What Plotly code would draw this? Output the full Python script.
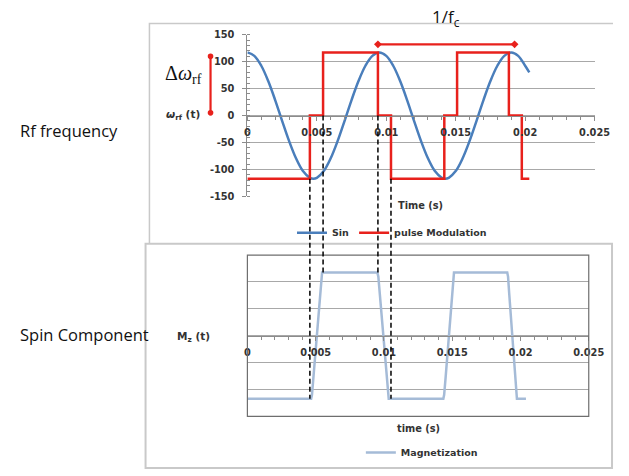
import plotly.graph_objects as go

# ---------------- data ----------------
# carrier (Sin) sampled over time
t_sin = [0.0, 0.0005, 0.001, 0.0015, 0.002, 0.0025, 0.003, 0.0035, 0.004, 0.0045, 0.00475,
         0.005, 0.0055, 0.006, 0.0065, 0.007, 0.0075, 0.008, 0.0085, 0.009, 0.0095,
         0.01, 0.0105, 0.011, 0.0115, 0.012, 0.0125, 0.013, 0.0135, 0.014, 0.01425,
         0.0145, 0.015, 0.0155, 0.016, 0.0165, 0.017, 0.0175, 0.018, 0.0185, 0.019,
         0.0195, 0.02, 0.0203]
sin_values = [117, 110.7, 92.3, 64.0, 28.7, -9.7, -47.0, -79.2, -102.9, -115.4, -117,
              -115.4, -102.9, -79.2, -47.0, -9.7, 28.7, 64.0, 92.3, 110.7, 117,
              110.7, 92.3, 64.0, 28.7, -9.7, -47.0, -79.2, -102.9, -115.4, -117,
              -115.4, -102.9, -79.2, -47.0, -9.7, 28.7, 64.0, 92.3, 110.7, 117,
              110.7, 92.3, 80.0]

# pulse modulation: switching times and the level held after each one
t_pulse = [0.0, 0.0045, 0.00545, 0.0094, 0.01034, 0.01418, 0.0151, 0.01883, 0.01976, 0.0203]
pulse_values = [-117, 0, 117, 0, -117, 0, 117, 0, -117, -117]

# magnetization response
t_mag = [0.0,
         0.00467, 0.00473, 0.00483, 0.00507, 0.00531, 0.00541, 0.00547,
         0.00952, 0.00959, 0.00969, 0.00994, 0.01019, 0.01029, 0.01035,
         0.01435, 0.01441, 0.01451, 0.01474, 0.01497, 0.01507, 0.01513,
         0.01903, 0.01909, 0.01917, 0.01939, 0.01960, 0.01968, 0.01974,
         0.0204]
mag_values = [-2.35,
              -2.35, -2.2, -1.6, 0, 1.6, 2.2, 2.35,
              2.35, 2.2, 1.6, 0, -1.6, -2.2, -2.35,
              -2.35, -2.2, -1.6, 0, 1.6, 2.2, 2.35,
              2.35, 2.2, 1.6, 0, -1.6, -2.2, -2.35,
              -2.35]

# carrier period bracket (1/fc) and amplitude bracket (Δω_rf)
period_t = [0.0094, 0.01924]
period_level = [132, 132]
amp_levels = [5, 110]

# switching instants traced down to the magnetization
edge_t = [0.0045, 0.00545, 0.0094, 0.01034]
edge_top_level = [-117, 0, 0, -117]
edge_mag_level = [-2.35, 2.35, 2.35, -2.35]

x_ticks = [0, 0.005, 0.01, 0.015, 0.02, 0.025]
x_tick_text = ["0", "0.005", "0.01", "0.015", "0.02", "0.025"]
y_ticks = [-150, -100, -50, 0, 50, 100, 150]
y_tick_text = ["-150", "-100", "-50", "0", "50", "100", "150"]

# ---------------- layout geometry ----------------
W, H = 629, 476


def px_x(p):
    return p / W


def px_y(p):
    return 1 - p / H


D1x = [px_x(252), px_x(610)]
D1y = [px_y(195), px_y(29.3)]
D2x = [px_x(252), px_x(604)]
D2y = [px_y(420), px_y(255)]
R1y = [-150, 150]
R2y = [-3, 3]
Rx = [0, 0.025]


def to_paper(v, dom, rng):
    return dom[0] + (v - rng[0]) / (rng[1] - rng[0]) * (dom[1] - dom[0])


BLUE = "#4a7ebb"
RED = "#e8211c"
MAGC = "#a5bbd7"
TXT = "#333333"
GRID = "#a8a8a8"
AXIS = "#8c8c8c"
TICKFONT = dict(family="DejaVu Sans", size=9.8, color=TXT, weight="bold")

fig = go.Figure()

fig.add_trace(go.Scatter(x=t_sin, y=sin_values, name="Sin", mode="lines",
                         line=dict(color=BLUE, width=2.5, shape="spline", smoothing=1.0),
                         xaxis="x", yaxis="y", legend="legend"))
fig.add_trace(go.Scatter(x=t_pulse, y=pulse_values, name="pulse Modulation", mode="lines",
                         line=dict(color=RED, width=2.5, shape="hv"),
                         xaxis="x", yaxis="y", legend="legend"))
fig.add_trace(go.Scatter(x=period_t, y=period_level, mode="lines+markers", showlegend=False,
                         line=dict(color=RED, width=2.2),
                         marker=dict(color=RED, size=6, symbol="diamond"),
                         xaxis="x", yaxis="y", hoverinfo="skip"))
fig.add_trace(go.Scatter(x=t_mag, y=mag_values, name="Magnetization", mode="lines",
                         line=dict(color=MAGC, width=2.5),
                         xaxis="x2", yaxis="y2", legend="legend2"))

x_common = dict(range=Rx, tickvals=x_ticks, ticktext=x_tick_text, showgrid=False,
                zeroline=False, showline=True, linecolor=AXIS, linewidth=1,
                ticks="outside", ticklen=4, tickcolor=AXIS, tickfont=TICKFONT,
                ticklabelstandoff=4,
                minor=dict(dtick=0.001, tick0=0, ticks="outside", ticklen=3,
                           tickcolor=AXIS, showgrid=False),
                anchor="free", fixedrange=True)

fig.update_layout(
    width=W, height=H,
    margin=dict(l=0, r=0, t=0, b=0),
    paper_bgcolor="white", plot_bgcolor="rgba(0,0,0,0)",
    xaxis=dict(domain=D1x, position=to_paper(0, D1y, R1y), **x_common),
    yaxis=dict(domain=D1y, range=R1y, tickvals=y_ticks, ticktext=y_tick_text, anchor="x",
               showgrid=True, gridcolor=GRID, gridwidth=1, zeroline=False,
               showline=True, linecolor=AXIS, linewidth=1,
               ticks="outside", ticklen=4, tickcolor=AXIS, tickfont=TICKFONT,
               ticklabelstandoff=6,
               minor=dict(dtick=10, tick0=0, ticks="inside", ticklen=3,
                          tickcolor=AXIS, showgrid=False),
               fixedrange=True),
    xaxis2=dict(domain=D2x, position=to_paper(0, D2y, R2y), **x_common),
    yaxis2=dict(domain=D2y, range=R2y, dtick=1, anchor="x2",
                showgrid=True, gridcolor=GRID, gridwidth=1, zeroline=False,
                showline=False, showticklabels=False, ticks="", fixedrange=True),
    legend=dict(orientation="h", x=px_x(298), y=px_y(232), xanchor="left", yanchor="middle",
                font=dict(family="DejaVu Sans", size=9.5, color=TXT, weight="bold"),
                bgcolor="rgba(0,0,0,0)", itemwidth=30, tracegroupgap=0),
    legend2=dict(orientation="h", x=px_x(369), y=px_y(457), xanchor="left", yanchor="middle",
                 font=dict(family="DejaVu Sans", size=9.5, color=TXT, weight="bold"),
                 bgcolor="rgba(0,0,0,0)", itemwidth=30),
    showlegend=True,
)

shapes = []
PANEL = "#c9c9c9"
# panel frames
shapes.append(dict(type="path", xref="paper", yref="paper",
                   path=f"M {px_x(151)},{px_y(243)} L {px_x(151)},{px_y(18)} L {px_x(629)},{px_y(18)}",
                   line=dict(color=PANEL, width=1.5)))
shapes.append(dict(type="rect", xref="paper", yref="paper",
                   x0=px_x(147), x1=px_x(628), y0=px_y(473), y1=px_y(243.5),
                   line=dict(color=PANEL, width=2)))
# magnetization plot-area box
shapes.append(dict(type="rect", xref="paper", yref="paper",
                   x0=D2x[0], x1=D2x[1], y0=D2y[0], y1=D2y[1],
                   line=dict(color="#6e6e6e", width=1.2)))

# amplitude bracket left of the top axis
amp_x = px_x(214)
shapes.append(dict(type="line", xref="paper", yref="y", x0=amp_x, x1=amp_x,
                   y0=amp_levels[0], y1=amp_levels[1], line=dict(color=RED, width=2.2)))
for lv in amp_levels:
    shapes.append(dict(type="circle", xref="paper", yref="y", xsizemode="pixel",
                       ysizemode="pixel", xanchor=amp_x, yanchor=lv,
                       x0=-2.8, x1=2.8, y0=-2.8, y1=2.8,
                       fillcolor=RED, line=dict(color=RED, width=0)))

# dashed guides from each switching instant down to the magnetization curve
for t, top_lv, mag_lv in zip(edge_t, edge_top_level, edge_mag_level):
    shapes.append(dict(type="line", xref="x", yref="paper", x0=t, x1=t,
                       y0=to_paper(top_lv, D1y, R1y), y1=to_paper(mag_lv, D2y, R2y),
                       line=dict(color="black", width=1.5, dash="5px,3px"), layer="above"))

fig.update_layout(shapes=shapes)

ann = []
SANS = "Open Sans"
ann.append(dict(text="Rf frequency", x=px_x(15), y=px_y(127), xref="paper", yref="paper",
                xanchor="left", yanchor="middle", showarrow=False,
                font=dict(family=SANS, size=16.5, color="#111")))
ann.append(dict(text="Spin Component", x=px_x(15), y=px_y(336), xref="paper", yref="paper",
                xanchor="left", yanchor="middle", showarrow=False,
                font=dict(family=SANS, size=16.5, color="#111")))
ann.append(dict(text="1/f<sub>c</sub>", x=sum(period_t) / 2, y=px_y(12), xref="x", yref="paper",
                xanchor="center", yanchor="middle", showarrow=False,
                font=dict(family=SANS, size=17, color="#111")))
ann.append(dict(text="Δ<i>ω</i><sub>rf</sub>", x=px_x(186), y=px_y(70), xref="paper", yref="paper",
                xanchor="center", yanchor="middle", showarrow=False,
                font=dict(family="Liberation Serif", size=20, color="#111")))
ann.append(dict(text="<i>ω</i><sub>rf</sub> (t)", x=px_x(186), y=px_y(112), xref="paper", yref="paper",
                xanchor="center", yanchor="middle", showarrow=False,
                font=dict(family="DejaVu Sans", size=10.5, color=TXT, weight="bold")))
ann.append(dict(text="M<sub>z</sub> (t)", x=px_x(196), y=px_y(339), xref="paper", yref="paper",
                xanchor="center", yanchor="middle", showarrow=False,
                font=dict(family="DejaVu Sans", size=10.5, color=TXT, weight="bold")))
ann.append(dict(text="Time (s)", x=(D1x[0] + D1x[1]) / 2, y=px_y(204), xref="paper", yref="paper",
                xanchor="center", yanchor="middle", showarrow=False,
                font=dict(family="DejaVu Sans", size=9.8, color=TXT, weight="bold")))
ann.append(dict(text="time (s)", x=(D2x[0] + D2x[1]) / 2, y=px_y(432), xref="paper", yref="paper",
                xanchor="center", yanchor="middle", showarrow=False,
                font=dict(family="DejaVu Sans", size=9.8, color=TXT, weight="bold")))
fig.update_layout(annotations=ann)

fig.write_html("out.html")
